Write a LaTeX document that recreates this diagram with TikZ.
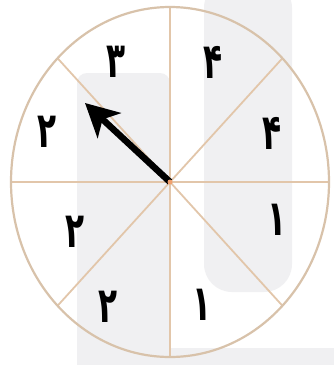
\documentclass[tikz,border=0pt]{standalone}
\usepackage{fontspec}
\usetikzlibrary{arrows.meta}
\newfontfamily\arabicfont[Script=Arabic]{DejaVu Sans}
\definecolor{wm}{RGB}{240,240,242}
\definecolor{spoke}{RGB}{226,198,170}
\definecolor{rim}{RGB}{216,194,170}
\definecolor{hub}{RGB}{240,160,110}
\newcommand{\pdigit}[1]{\scalebox{0.82}[1.3]{#1}}
\begin{document}
\begin{tikzpicture}[x=1pt,y=-1pt,
  watermark/.style={fill=wm,draw=none},
  spokeline/.style={draw=spoke,line width=1.8pt},
  rimline/.style={draw=rim,line width=2.2pt},
  digit/.style={font=\arabicfont\bfseries\fontsize{38}{38}\selectfont,text=black,inner sep=0pt},
  pointer/.style={line width=6.5pt,-{Stealth[length=33pt,width=34pt,inset=9pt]}}]
\useasboundingbox (0,0) rectangle (334,365);
\fill[white] (0,0) rectangle (334,365);
% watermark
\fill[watermark,rounded corners=10pt] (77,73) -- (77,380) -- (170,380) -- (170,73) -- cycle;
\fill[watermark,rounded corners=28pt] (204,-20) -- (204,292) -- (292,292) -- (292,-20) -- cycle;
\fill[watermark] (77,348) rectangle (334,365);
% wheel
\coordinate (c) at (170,182);
\foreach \a in {0,45,...,315}{
  \coordinate (p\a) at ({170+159*cos(\a)},{182-175*sin(\a)});
}
\foreach \a in {0,45,...,315}{
  \draw[spokeline] (c) -- (p\a);
}
\draw[rimline] (c) ellipse [x radius=159pt, y radius=175pt];
% labels
\node[digit] (d1) at (116,62) {\pdigit{۳}};
\node[digit] (d2) at (213,62) {\pdigit{۴}};
\node[digit] (d3) at (272,133) {\pdigit{۴}};
\node[digit] (d4) at (277,220) {\pdigit{۱}};
\node[digit] (d5) at (202,305) {\pdigit{۱}};
\node[digit] (d6) at (108,307) {\pdigit{۲}};
\node[digit] (d7) at (75,232) {\pdigit{۲}};
\node[digit] (d8) at (47,132) {\pdigit{۲}};
% pointer
\coordinate (tip) at (85,103);
\draw[pointer] (c) -- (tip);
\fill[hub] (c) circle (2.5pt);
\end{tikzpicture}
\end{document}
